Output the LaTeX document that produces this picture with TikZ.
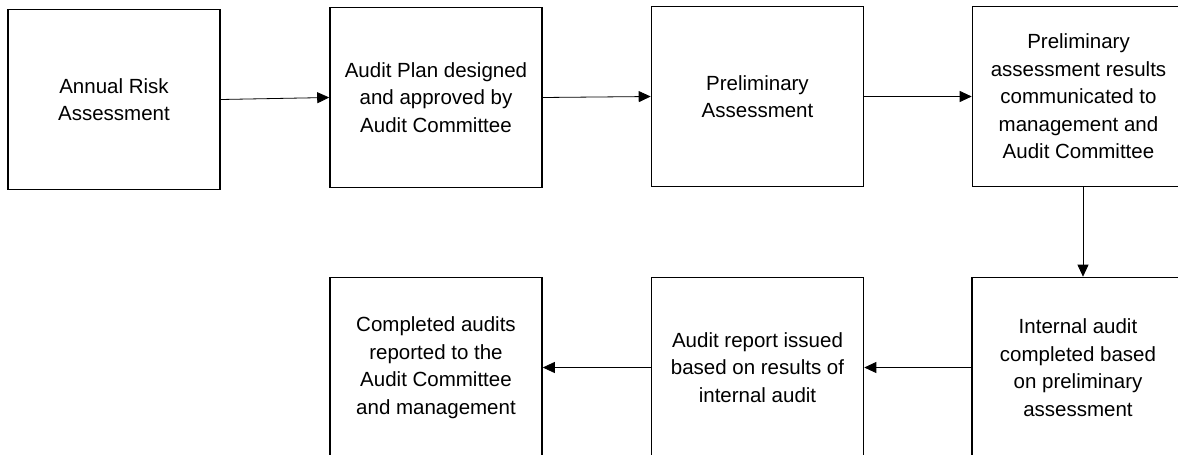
\documentclass[tikz,border=0pt]{standalone}
\usepackage{fontspec}
\setmainfont{Liberation Sans}
\usepackage{tikz}
\usetikzlibrary{arrows.meta}

\begin{document}
\begin{tikzpicture}[x=1pt, y=-1pt,
  box/.style={draw, line width=1.6pt, minimum width=212pt, minimum height=180pt,
    inner sep=0pt, align=center, font=\fontsize{20.5}{27.5}\selectfont},
  flow/.style={-{Triangle[length=12pt,width=11pt]}, line width=0.8pt}]
\path[use as bounding box, clip] (0,0) rectangle (1178,455);

% top row
\node[box] (risk) at (114,99.5) {Annual Risk\\Assessment};
\node[box] (plan) at (436,97.5) {Audit Plan designed\\and approved by\\Audit Committee};
\node[box] (prelim) at (757.5,96.5) {Preliminary\\Assessment};
\node[box] (results) at (1078.5,96.5) {Preliminary\\assessment results\\communicated to\\management and\\Audit Committee};

% bottom row
\node[box] (internal) at (1078,367.5) {Internal audit\\completed based\\on preliminary\\assessment};
\node[box] (report) at (757.5,367.5) {Audit report issued\\based on results of\\internal audit};
\node[box] (done) at (436,367.5) {Completed audits\\reported to the\\Audit Committee\\and management};

\draw[flow] (risk.east) -- (plan.west);
\draw[flow] (plan.east) -- (prelim.west);
\draw[flow] (prelim.east) -- (results.west);
\draw[flow] ([xshift=4.5pt]results.south) -- ([xshift=5pt]internal.north);
\draw[flow] (internal.west) -- (report.east);
\draw[flow] (report.west) -- (done.east);
\end{tikzpicture}
\end{document}
